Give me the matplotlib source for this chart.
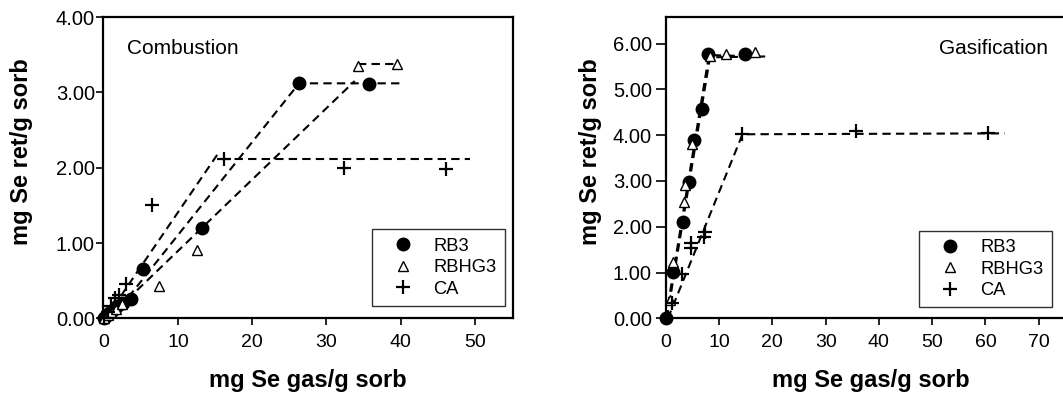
import matplotlib.pyplot as plt
import numpy as np

plt.rcParams['font.family'] = ['Liberation Sans', 'DejaVu Sans']

# Combustion data
comb_rb3_x = [0, 0.3, 0.7, 1.2, 1.8, 2.5, 3.7, 5.2, 13.2, 26.3, 35.7]
comb_rb3_y = [0, 0.03, 0.07, 0.11, 0.16, 0.21, 0.26, 0.65, 1.20, 3.12, 3.11]
comb_rbhg3_x = [0, 0.5, 1.0, 1.6, 2.4, 7.4, 12.6, 34.2, 39.5]
comb_rbhg3_y = [0, 0.04, 0.08, 0.13, 0.19, 0.43, 0.91, 3.35, 3.37]
comb_ca_x = [0, 0.5, 1.0, 1.5, 2.0, 3.0, 6.5, 16.2, 32.3, 46.1]
comb_ca_y = [0, 0.08, 0.16, 0.27, 0.31, 0.46, 1.50, 2.11, 2.00, 1.98]

# Combustion fitted lines (diagonal then plateau)
comb_fit_rb3 = ([1.0, 26.3, 40.0], [0, 3.12, 3.12])
comb_fit_rbhg3_diag = ([0.5, 33.8], [0, 3.15])
comb_fit_rbhg3_flat = ([34.2, 39.8], [3.37, 3.37])
comb_fit_ca_diag = ([0.2, 15.6], [0, 2.22])
comb_fit_ca_flat = ([15.8, 49.3], [2.11, 2.11])

# Gasification data
gas_rb3_x = [0, 1.4, 3.2, 4.4, 5.3, 6.8, 8.0, 14.9]
gas_rb3_y = [0, 1.02, 2.11, 2.98, 3.89, 4.58, 5.78, 5.77]
gas_rbhg3_x = [0.8, 1.4, 3.4, 3.6, 4.9, 8.3, 11.3, 16.7]
gas_rbhg3_y = [0.40, 1.24, 2.55, 2.91, 3.80, 5.73, 5.78, 5.82]
gas_ca_x = [1.1, 3.0, 4.7, 4.8, 7.2, 7.4, 14.4, 35.7, 60.4]
gas_ca_y = [0.33, 0.98, 1.53, 1.64, 1.77, 1.89, 4.02, 4.09, 4.04]

gas_fit_rb3 = ([0, 8.1, 17.0], [0, 5.75, 5.72])
gas_fit_rbhg3 = ([0.2, 8.3, 19.4], [0, 5.70, 5.72])
gas_fit_ca = ([0.4, 14.4, 63.6], [0, 4.02, 4.04])

fig = plt.figure(figsize=(10.63, 3.96), dpi=100)
# the right panel runs past the image edge, as in the original
ax1 = fig.add_axes([0.0972, 0.196, 0.385, 0.761])
ax2 = fig.add_axes([0.6263, 0.196, 0.385, 0.761])

dash = dict(color='black', lw=1.5, dashes=(4, 2.5))


def style(ax, ylen, ypad, ylab_x):
    for s in ax.spines.values():
        s.set_linewidth(1.6)
    ax.tick_params(axis='x', direction='out', length=5, width=1.2, labelsize=14, pad=6)
    ax.tick_params(axis='y', direction='out', length=ylen, width=1.2, labelsize=14.5, pad=ypad)
    ax.set_xlabel('mg Se gas/g sorb', fontsize=17, fontweight='bold')
    ax.set_ylabel('mg Se ret/g sorb', fontsize=17, fontweight='bold')
    ax.xaxis.set_label_coords(0.5, -0.167)
    ax.yaxis.set_label_coords(ylab_x, 0.554)


def add_legend(ax, anchor):
    leg = ax.legend(loc='lower right', bbox_to_anchor=anchor, borderaxespad=0,
                    fontsize=13.2, frameon=True, fancybox=False, edgecolor='black',
                    handlelength=2.5, handletextpad=0.4, borderpad=0.45,
                    labelspacing=0.25)
    leg.get_frame().set_linewidth(1.0)


# left panel
ax1.plot(*comb_fit_rb3, **dash)
ax1.plot(*comb_fit_rbhg3_diag, **dash)
ax1.plot(*comb_fit_rbhg3_flat, **dash)
ax1.plot(*comb_fit_ca_diag, **dash)
ax1.plot(*comb_fit_ca_flat, **dash)
ax1.plot(comb_rb3_x, comb_rb3_y, 'o', color='black', ms=9, label='RB3', clip_on=False)
ax1.plot(comb_rbhg3_x, comb_rbhg3_y, '^', mfc='white', mec='black', mew=1, ms=7, label='RBHG3', clip_on=False)
ax1.plot(comb_ca_x, comb_ca_y, '+', color='black', mew=1.6, ms=10, label='CA', clip_on=False)
ax1.set_xlim(-0.1, 55.1)
ax1.set_ylim(0, 4)
ax1.set_xticks([0, 10, 20, 30, 40, 50])
ax1.set_yticks([0, 1, 2, 3, 4])
ax1.set_yticklabels(['0.00', '1.00', '2.00', '3.00', '4.00'])
ax1.text(0.057, 0.897, 'Combustion', transform=ax1.transAxes, fontsize=15, va='center')
style(ax1, 5, 1, -0.172)
add_legend(ax1, (0.9805, 0.041))

# right panel
ax2.plot(*gas_fit_rb3, **dash)
ax2.plot(*gas_fit_rbhg3, **dash)
ax2.plot(*gas_fit_ca, **dash)
ax2.plot(gas_rb3_x, gas_rb3_y, 'o', color='black', ms=9, label='RB3', clip_on=False)
ax2.plot(gas_rbhg3_x, gas_rbhg3_y, '^', mfc='white', mec='black', mew=1, ms=7, label='RBHG3', clip_on=False)
ax2.plot(gas_ca_x, gas_ca_y, '+', color='black', mew=1.6, ms=10, label='CA', clip_on=False)
ax2.set_xlim(0, 76.8)
ax2.set_ylim(0, 6.58)
ax2.set_xticks([0, 10, 20, 30, 40, 50, 60, 70])
ax2.set_yticks([0, 1, 2, 3, 4, 5, 6])
ax2.set_yticklabels(['0.00', '1.00', '2.00', '3.00', '4.00', '5.00', '6.00'])
ax2.text(0.668, 0.897, 'Gasification', transform=ax2.transAxes, fontsize=15, va='center')
style(ax2, 7, 3, -0.156)
add_legend(ax2, (0.943, 0.0365))

fig.savefig('out.png', dpi=100)
